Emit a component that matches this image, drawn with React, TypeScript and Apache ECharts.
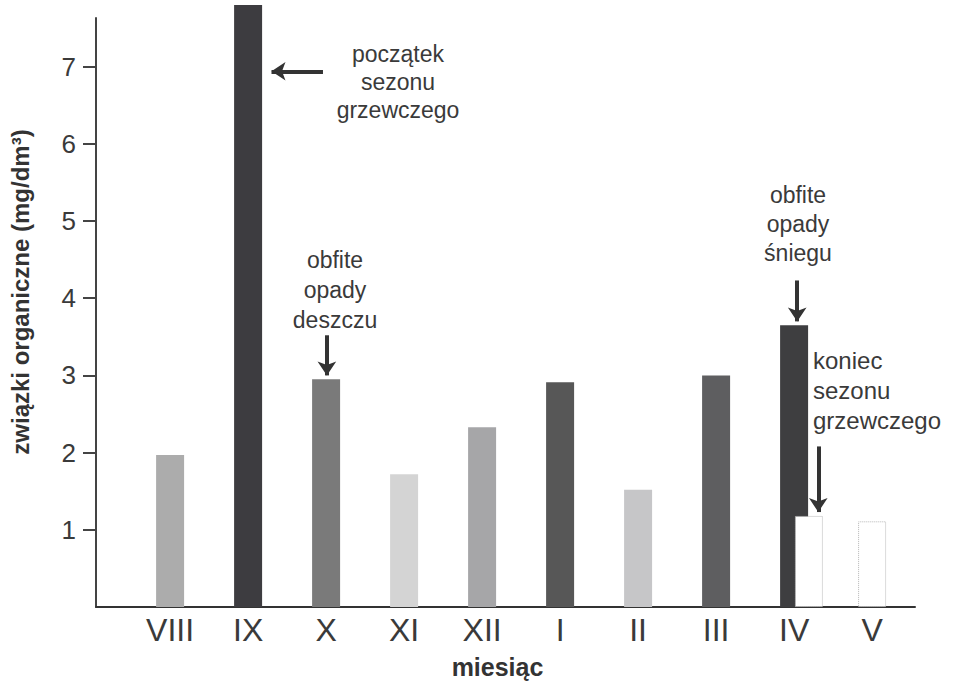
import React, { useEffect, useRef } from "react";
import * as echarts from "echarts";

const months = ["VIII", "IX", "X", "XI", "XII", "I", "II", "III", "IV", "V"];
// main (filled) bars: index into months, value in mg/dm3
const mainIdx = [0, 1, 2, 3, 4, 5, 6, 7, 8];
const mainValues = [1.97, 7.8, 2.95, 1.72, 2.33, 2.91, 1.52, 3.0, 3.65];
const mainColors = ["#acacac", "#3d3c40", "#7a7a7a", "#d4d4d4", "#a6a6a8", "#575757", "#c6c6c8", "#5e5e60", "#3e3e40"];
// after end of heating season (white dotted bars)
const afterX = [8.19, 9];
const afterValues = [1.18, 1.11];
const yTicks = [1, 2, 3, 4, 5, 6, 7];

const FONT = "'Liberation Sans', Arial, sans-serif";

export default function App() {
  const ref = useRef<HTMLDivElement>(null);
  useEffect(() => {
    const chart = echarts.init(ref.current!, null, { renderer: "svg" });
    const arrowStyle = { color: "#333", width: 4, type: "solid" as const };
    chart.setOption({
      animation: false,
      backgroundColor: "#fff",
      grid: { left: 96, right: 42, top: 18, bottom: 80 },
      xAxis: {
        type: "value",
        min: -0.95,
        max: 9.55,
        splitLine: { show: false },
        axisLine: { show: true, onZero: false, lineStyle: { color: "#333", width: 2 } },
        axisTick: { show: false },
        axisLabel: {
          customValues: months.map((_, i) => i),
          formatter: (v: number) => months[Math.round(v)] ?? "",
          fontSize: 32,
          color: "#3a3a3a",
          margin: 7,
          fontFamily: FONT,
        },
        name: "miesiąc",
        nameLocation: "middle",
        nameGap: 47,
        nameTextStyle: { fontSize: 25, fontWeight: "bold", color: "#333", fontFamily: FONT, padding: [0, 16, 0, 0] },
      },
      yAxis: {
        type: "value",
        min: 0,
        max: 7.63,
        interval: 1,
        splitLine: { show: false },
        axisLine: { show: true, onZero: false, lineStyle: { color: "#444", width: 2 } },
        axisTick: { show: true, length: 13, customValues: yTicks, lineStyle: { color: "#444", width: 2 } },
        axisLabel: { customValues: yTicks, fontSize: 26, color: "#3a3a3a", margin: 20, fontFamily: FONT },
      },
      series: [
        {
          type: "bar",
          barWidth: 28,
          barGap: "-100%",
          clip: false,
          data: mainIdx.map((i, k) => ({ value: [i, mainValues[k]], itemStyle: { color: mainColors[k] } })),
          markLine: {
            silent: true,
            symbol: ["none", "arrow"],
            symbolSize: [14, 14],
            label: { show: false },
            lineStyle: arrowStyle,
            data: [
              [{ coord: [1.96, 6.94] }, { coord: [1.3, 6.94] }],
              [{ coord: [2.01, 3.52] }, { coord: [2.01, mainValues[2] + 0.05] }],
              [{ coord: [8.04, 4.23] }, { coord: [8.04, mainValues[8] + 0.05] }],
              [{ coord: [8.31, 2.08] }, { coord: [8.31, afterValues[0] + 0.05] }],
            ],
          },
        },
        {
          type: "bar",
          barWidth: 28,
          barGap: "-100%",
          data: afterX.map((x, k) => [x, afterValues[k]]),
          itemStyle: { color: "#fff", borderColor: "#b5b5b5", borderWidth: 1, borderType: "dotted" },
        },
      ],
      graphic: [
        {
          type: "text",
          x: 20,
          y: 292,
          rotation: Math.PI / 2,
          style: {
            text: "związki organiczne (mg/dm³)",
            font: "bold 24px " + FONT,
            fill: "#333",
            textAlign: "center",
            textVerticalAlign: "middle",
          },
        },
        {
          type: "text",
          x: 398,
          y: 40,
          style: { text: "początek\nsezonu\ngrzewczego", font: "23px " + FONT, fill: "#3a3a3a", textAlign: "center", lineHeight: 28 },
        },
        {
          type: "text",
          x: 335,
          y: 245,
          style: { text: "obfite\nopady\ndeszczu", font: "23px " + FONT, fill: "#3a3a3a", textAlign: "center", lineHeight: 30 },
        },
        {
          type: "text",
          x: 798,
          y: 180,
          style: { text: "obfite\nopady\nśniegu", font: "23px " + FONT, fill: "#3a3a3a", textAlign: "center", lineHeight: 29 },
        },
        {
          type: "text",
          x: 813,
          y: 345,
          style: { text: "koniec\nsezonu\ngrzewczego", font: "24px " + FONT, fill: "#3a3a3a", textAlign: "left", lineHeight: 30 },
        },
      ],
    });
    return () => chart.dispose();
  }, []);
  return <div ref={ref} style={{ width: 957, height: 687, position: "absolute", left: 0, top: 0 }} />;
}
